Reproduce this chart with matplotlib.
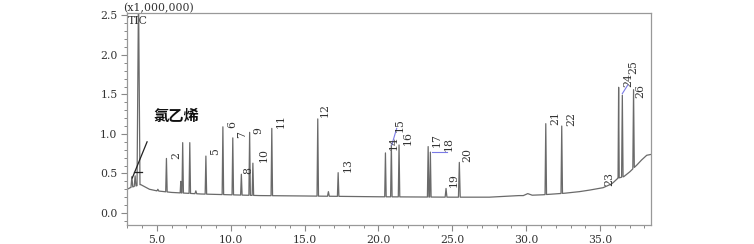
import numpy as np
import matplotlib
matplotlib.use('Agg')
import matplotlib.pyplot as plt
from matplotlib.ticker import MultipleLocator, FormatStrFormatter

# ---- data (retention time in min, intensity in x1,000,000) ----
base_t = [3.00, 3.20, 3.90, 4.50, 5.00, 6.00, 7.00, 8.00, 10.0, 12.0, 15.0,
          20.0, 25.0, 27.5, 28.5, 29.5, 29.8, 30.1, 30.4, 31.1, 32.6, 33.6,
          34.3, 35.2, 35.8, 36.2, 36.6, 37.0, 37.25, 37.5, 37.8, 38.15, 38.42]
base_i = [0.30, 0.32, 0.36, 0.30, 0.28, 0.26, 0.25, 0.24, 0.23, 0.22, 0.215,
          0.205, 0.20, 0.20, 0.21, 0.22, 0.22, 0.245, 0.225, 0.23, 0.25, 0.27,
          0.29, 0.32, 0.37, 0.44, 0.46, 0.52, 0.565, 0.61, 0.67, 0.73, 0.74]

peak_t = [3.31, 3.53, 3.76, 5.07, 5.65, 6.62, 6.75, 7.23, 7.64, 8.32, 9.47,
          10.14, 10.72, 11.28, 11.50, 12.78, 15.89, 16.61, 17.27, 20.47, 20.87,
          21.39, 23.36, 23.51, 24.57, 25.47, 31.32, 32.40, 35.85, 36.25, 36.50,
          37.26]
peak_i = [0.46, 0.47, 2.80, 0.30, 0.69, 0.40, 0.89, 0.89, 0.28, 0.72, 1.09,
          0.95, 0.49, 1.02, 0.63, 1.07, 1.19, 0.27, 0.51, 0.76, 0.86, 0.86,
          0.84, 0.77, 0.31, 0.64, 1.13, 1.10, 0.38, 1.59, 1.49, 1.56]
peak_hw = [0.06, 0.06, 0.10, 0.06, 0.05, 0.04, 0.05, 0.05, 0.06, 0.05, 0.05,
           0.05, 0.05, 0.05, 0.05, 0.05, 0.05, 0.06, 0.05, 0.05, 0.05, 0.05,
           0.05, 0.05, 0.06, 0.06, 0.05, 0.05, 0.08, 0.04, 0.05, 0.05]

label_text = ['2', '5', '6', '7', '8', '9', '10', '11', '12', '13', '14', '15',
              '16', '17', '18', '19', '20', '21', '22', '23', '24', '25', '26']
label_pos = [(5.98, 0.68), (8.60, 0.73), (9.74, 1.07), (10.41, 0.945),
             (10.86, 0.49), (11.50, 1.005), (11.92, 0.65), (13.07, 1.08),
             (16.05, 1.21), (17.58, 0.52), (20.67, 0.795), (21.12, 1.025),
             (21.62, 0.86), (23.60, 0.835), (24.39, 0.785), (24.73, 0.33),
             (25.64, 0.65), (31.61, 1.11), (32.69, 1.10), (35.28, 0.34),
             (36.55, 1.595), (36.90, 1.755), (37.36, 1.45)]

# ---- build the trace from baseline points and peak apexes ----
pts = []
for t, i in zip(base_t, base_i):
    inside = any(abs(t - pt) <= hw for pt, hw in zip(peak_t, peak_hw))
    if not inside:
        pts.append((t, i))
for pt, pi, hw in zip(peak_t, peak_i, peak_hw):
    pts.append((pt - hw, float(np.interp(pt - hw, base_t, base_i))))
    pts.append((pt, pi))
    pts.append((pt + hw, float(np.interp(pt + hw, base_t, base_i))))
pts.sort()
tx = [p[0] for p in pts]
ty = [p[1] for p in pts]

# ---- figure ----
fig = plt.figure(figsize=(7.54, 2.44), dpi=100)
ax = fig.add_axes([0.1688, 0.0779, 0.6942, 0.8688])
ax.plot(tx, ty, color='#6a6a6a', lw=0.9)

ax.set_xlim(3.0, 38.42)
ax.set_ylim(-0.152, 2.53)

serif = 'DejaVu Serif'
ax.xaxis.set_major_locator(MultipleLocator(5))
ax.xaxis.set_minor_locator(MultipleLocator(1))
ax.yaxis.set_major_locator(MultipleLocator(0.5))
ax.yaxis.set_minor_locator(MultipleLocator(0.1))
ax.xaxis.set_major_formatter(FormatStrFormatter('%.1f'))
ax.yaxis.set_major_formatter(FormatStrFormatter('%.1f'))
ax.tick_params(which='major', direction='out', length=4.5, width=0.8,
               color='#888888', labelcolor='#333333', labelsize=7.8, pad=2.5)
ax.tick_params(which='minor', direction='out', length=2.2, width=0.7,
               color='#888888')
for lab in ax.get_xticklabels() + ax.get_yticklabels():
    lab.set_fontfamily(serif)
for s in ax.spines.values():
    s.set_color('#999999')
    s.set_linewidth(0.9)

ax.text(-0.007, 1.0, '(x1,000,000)', transform=ax.transAxes, ha='left',
        va='bottom', fontsize=7.8, family=serif, color='#333333')
ax.text(0.001, 0.963, 'TIC', transform=ax.transAxes, ha='left', va='center',
        fontsize=7.8, family=serif, color='#333333')

for s, (x, y) in zip(label_text, label_pos):
    ax.text(x, y, s, rotation=90, ha='left', va='bottom', fontsize=7.8,
            family=serif, color='#333333')

# leader lines
ax.plot([20.90, 21.23], [0.86, 1.07], color='#7a7ae6', lw=0.8)
ax.plot([23.60, 24.66], [0.768, 0.768], color='#7a7ae6', lw=0.8)
ax.plot([36.50, 36.87], [1.51, 1.62], color='#7a7ae6', lw=0.8)

# vinyl chloride annotation
ax.plot([3.34, 4.34], [0.443, 0.90], color='#222222', lw=0.9)
ax.plot([3.48, 3.98], [0.522, 0.522], color='#222222', lw=0.9)
ax.text(4.77, 1.227, '氯乙烯', ha='left', va='center', fontsize=11,
        fontweight='bold', family=['Noto Sans CJK SC', 'DejaVu Sans'],
        color='#111111')

fig.savefig('out.png', dpi=100)
